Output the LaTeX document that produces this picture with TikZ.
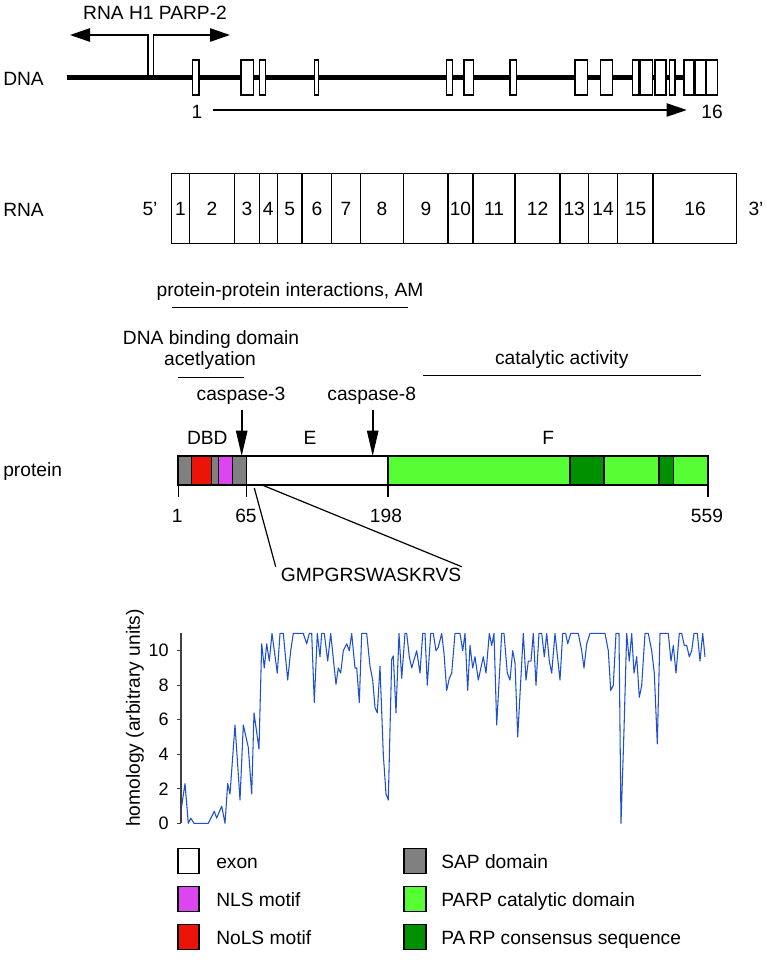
\documentclass[tikz,border=0pt]{standalone}
\usepackage{fontspec}
\setmainfont{Liberation Sans}
\usetikzlibrary{arrows.meta}
\definecolor{sapgray}{RGB}{128,128,128}
\definecolor{nolsred}{RGB}{236,20,8}
\definecolor{nlsmag}{RGB}{220,70,238}
\definecolor{parplight}{RGB}{85,255,51}
\definecolor{parpdark}{RGB}{0,145,0}
\definecolor{plotblue}{RGB}{30,80,205}
\begin{document}
\begin{tikzpicture}[x=0.75pt,y=-0.75pt,
  txt/.style={font=\fontsize{14.4}{17}\selectfont, inner sep=0pt},
  lbl/.style={txt, anchor=base},
  lblw/.style={txt, anchor=base west},
  exonbox/.style={draw=black, fill=white, line width=1pt},
  promo/.style={line width=1.2pt},
  bigtip/.style={-{Triangle[length=15pt,width=10pt]}},
  thinline/.style={line width=0.9pt},
  casp/.style={line width=1.2pt, -{Triangle[length=19pt,width=8.5pt]}},
  seg/.style={draw=black, line width=1pt},
  legbox/.style={draw=black, line width=1.1pt},
  tick/.style={txt, font=\fontsize{13.5}{16}\selectfont, anchor=east}
]
\useasboundingbox (0,0) rectangle (767,965);

% ---------------- DNA ----------------
\node[lblw] (dnalbl) at (3,85) {DNA};
\coordinate (dnaL) at (67,77.5);
\coordinate (dnaR) at (717.7,77.5);
\draw[line width=3.75pt] (dnaL) -- (dnaR);
\foreach \a/\b [count=\i] in {192.7/199, 241/253.3, 259.7/265.3, 314.3/318.3, 446.7/452.7, 464/473.3, 510/516.7, 575/587.7, 600.7/612.7, 632.3/638.3, 640/652.7, 655/666, 669.3/675, 684/694, 695/706, 706.7/717.7}
  \draw[exonbox] (\a,60) rectangle (\b,95);

\coordinate (pl) at (147.7,77.5);
\coordinate (pr) at (153.3,77.5);
\coordinate (plt) at (147.7,35);
\coordinate (prt) at (153.3,35);
\coordinate (plend) at (70,35);
\coordinate (prend) at (230,35);
\draw[promo, bigtip] (pl) -- (plt) -- (plend);
\draw[promo, bigtip] (pr) -- (prt) -- (prend);
\node[lbl] (promlbl) at (155,19) {RNA H1 PARP-2};

\node[lbl] (ex1) at (197,118) {1};
\node[lbl] (ex16) at (712,118) {16};
\coordinate (arA) at (213,110);
\coordinate (arB) at (686.7,110);
\draw[thinline, bigtip] (arA) -- (arB);

% ---------------- RNA ----------------
\node[lblw] (rnalbl) at (3,216) {RNA};
\draw[line width=1.1pt] (171.7,173.3) rectangle (736.7,243.3);
\foreach \x in {189.3,234.7,259.3,277.3,302,331.7,360.3,403.7,448,473,515,560,588.3,617.7}
  \draw[thinline] (\x,173.3) -- (\x,243.3);
\draw[line width=1.7pt] (653.3,173.3) -- (653.3,243.3);
\foreach \x/\t in {180.5/1, 212/2, 247/3, 268.3/4, 289.7/5, 316.9/6, 346/7, 382/8, 425.9/9, 460.5/10, 494/11, 537.5/12, 574.2/13, 603/14, 635.5/15, 695/16}
  \node[lbl] (r\t) at (\x,215) {\t};
\node[lbl] (five) at (150,215) {5'};
\node[lbl] (three) at (756,215) {3'};

% ---------------- protein ----------------
\node[lbl] (ppi) at (290,296.7) {protein-protein interactions, AM};
\draw[thinline] (172.3,307.3) -- (408.3,307.3);
\node[lbl] (dbdtxt) at (211,344) {DNA binding domain};
\node[lbl] (acet) at (210,365) {acetlyation};
\draw[thinline] (177.7,377.3) -- (244.3,377.3);
\node[lbl] (cat) at (561.7,364) {catalytic activity};
\draw[thinline] (423.3,375.3) -- (700.7,375.3);
\node[lbl] (c3) at (241,400) {caspase-3};
\node[lbl] (c8) at (371.7,400) {caspase-8};
\coordinate (c3a) at (241.7,410);
\coordinate (c3b) at (241.7,456);
\coordinate (c8a) at (372.7,410);
\coordinate (c8b) at (372.7,456);
\draw[casp] (c3a) -- (c3b);
\draw[casp] (c8a) -- (c8b);
\node[lbl] (dbd) at (207.3,444) {DBD};
\node[lbl] (dE) at (310,444) {E};
\node[lbl] (dF) at (548.3,444) {F};
\node[lblw] (protlbl) at (3,476) {protein};

\foreach \a/\b/\c in {178.3/191.7/sapgray, 191.7/211.7/nolsred, 211.7/218.3/sapgray, 218.3/232.7/nlsmag, 232.7/246.7/sapgray, 246.7/388/white, 388/570/parplight, 570/604/parpdark, 604/659/parplight, 659/673.3/parpdark, 673.3/708/parplight}
  \draw[seg, fill=\c] (\a,456) rectangle (\b,485);
\draw[line width=1.3pt] (178.3,456) rectangle (708,485);
\foreach \x in {178.3,246.7,388,708}
  \draw[thinline] (\x,485) -- (\x,497);
\node[lbl] (p1) at (177.3,522) {1};
\node[lbl] (p65) at (246,522) {65};
\node[lbl] (p198) at (386,522) {198};
\node[lbl] (p559) at (707,522) {559};

\node[lbl] (gm) at (371,581) {GMPGRSWASKRVS};
\coordinate (gA) at (254.3,488);
\coordinate (gB) at (263.3,485.5);
\coordinate (gAe) at (275.7,566.7);
\coordinate (gBe) at (461.7,566.7);
\draw[thinline] (gA) -- (gAe);
\draw[thinline] (gB) -- (gBe);

% ---------------- homology plot ----------------
\draw[line width=0.8pt, black!75] (181,633.3) -- (181,823.3);
\foreach \v in {0,2,4,6,8,10} {
  \draw[line width=0.8pt, black!75] (176.5,{823.3-17.26*\v}) -- (181,{823.3-17.26*\v});
  \node[tick] (t\v) at (169,{823.3-17.26*\v}) {\v};
}
\node[txt, rotate=90] (ylab) at (135,718) {homology (arbitrary units)};

\begin{scope}[shift={(0,823.3)}, yscale=-17.26]
\draw[plotblue, line width=0.8pt, line join=round] plot coordinates {
(181.7,1.0) (185,2.3) (188.3,0) (190.7,0.3) (194,0) (208.3,0) (214.3,0.7) (216.7,0.3) (221.7,1.0) (225,0) (227.7,2.3) (230,1.7) (235,5.7) (240,1.35) (243.3,5.7) (248.3,4.4) (251.7,1.7) (254,6.4) (259,4.3) (261.7,10.4) (264.3,9.0) (266.7,10.4) (269.3,9.4) (272,11) (277.3,8.7) (280,11) (283.3,11) (287.7,8.3) (290.7,10) (293.3,11) (303.3,11)
(306.7,10.4) (309.3,11) (311.7,11) (314.3,7.0) (317.3,11) (320,9.65) (321.7,11) (324.3,11) (327.7,9.4) (330.7,11) (336,8.05) (338.3,9.0) (340.7,8.7) (343.3,10.0) (346.7,10.4) (349.3,10) (351.7,11) (355,9.0) (356.7,9.0) (359.3,7.0) (361.7,11) (366.7,11) (370,9.1) (372.7,8.3) (375,6.7) (377.3,6.4) (380,9.1) (383.3,4.0) (386,1.7) (388.3,1.35) (391.7,9.5) (393.3,9.7) (396,6.4) (399,11) (401.7,8.4) (405,11) (406.7,11) (409.3,9.65) (411.7,9.0) (416.7,10) (420,8.7)
(422.7,11) (425,11) (427.3,8.0) (430.7,11) (433.3,11) (436,10.0) (438.3,10.2) (441.7,11) (444,9.85) (446.7,7.7) (449.3,8.4) (451.7,8.7) (455,11) (460,11) (462.7,10) (465,11) (467.7,7.7) (470,10.3) (472.7,9.0) (475,9.65) (478.3,8.3) (483.3,9.65) (486,8.7) (489.3,11) (491.7,10.3) (494,11) (496.7,5.7) (501.7,11) (504,11) (507.3,8.7) (510,8.3) (512.7,10) (515,9.3) (517.7,5.0) (523.3,11) (526,8.3) (528.3,9.4) (531,9.4) (533.3,11) (536,8.0) (539,11) (541.7,11) (544.3,9.65) (546.7,11) (549.3,9.4) (551.7,8.7) (555,11) (560,8.3) (562.7,11) (565.7,11) (567.7,10.4) (570.7,11) (578.3,11) (581.7,10) (584,9.0) (586.7,10.4) (590,11) (605,11) (608.3,10) (610.7,7.7) (613.3,8.0) (616,11) (619,11) (621,0) (624,5.4) (626.7,11) (629.3,9.4) (631.7,11) (634,8.7) (636.7,9.65) (639.3,7.3) (641.7,8.0) (645,11) (648.3,11) (651.7,10) (654.3,8.7) (657.3,4.6) (660,11) (668.3,11) (671,9.4) (673.3,10.3) (676,8.7) (679.3,11) (681.7,11) (684.3,10.3) (686.7,10.3) (689.3,9.65) (691.7,10) (694,11) (697.3,11) (700,9.4) (702.7,11) (705,9.65)
};
\end{scope}

% ---------------- legend ----------------
\foreach \c/\yc/\t/\n in {white/861/exon/lexon, nlsmag/899/NLS motif/lnls, nolsred/937/NoLS motif/lnols} {
  \draw[legbox, fill=\c] (178,\yc-12.5) rectangle (199,\yc+12.5);
  \node[lblw] (\n) at (216,\yc+7) {\t};
}
\foreach \c/\yc/\t/\n in {sapgray/861/SAP domain/lsap, parplight/899/PARP catalytic domain/lcat, parpdark/937/PA\,RP consensus sequence/lcons} {
  \draw[legbox, fill=\c] (404,\yc-12.5) rectangle (426,\yc+12.5);
  \node[lblw] (\n) at (441,\yc+7) {\t};
}
\end{tikzpicture}
\end{document}
